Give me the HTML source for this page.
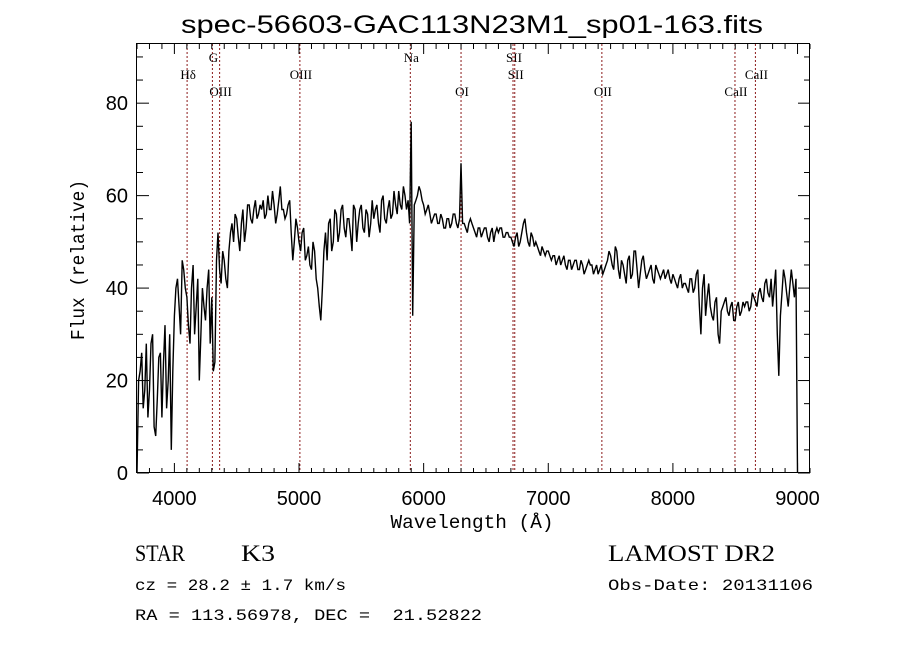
<!DOCTYPE html>
<html><head><meta charset="utf-8"><style>
html,body{margin:0;padding:0;background:#fff;}
svg{display:block}
</style></head><body>
<svg id="chart" width="900" height="649" xmlns="http://www.w3.org/2000/svg">
<rect width="900" height="649" fill="#fff"/>
<text x="472" y="33" text-anchor="middle" font-family="Liberation Sans, sans-serif" font-size="25" textLength="582" lengthAdjust="spacingAndGlyphs">spec-56603-GAC113N23M1_sp01-163.fits</text>
<g id="lines"></g>
<g id="axes"></g>
<path id="spec" fill="none" stroke="#000" stroke-width="1.4" stroke-linejoin="miter"/>
<rect x="136.5" y="43.5" width="673" height="429" fill="none" stroke="#000" stroke-width="1"/>
<text transform="translate(84,260) rotate(-90)" text-anchor="middle" font-family="Liberation Mono, monospace" font-size="19" textLength="160" lengthAdjust="spacingAndGlyphs">Flux (relative)</text>
<text x="472" y="528" text-anchor="middle" font-family="Liberation Mono, monospace" font-size="19" textLength="163" lengthAdjust="spacingAndGlyphs">Wavelength (Å)</text>
<text x="135" y="561" font-family="Liberation Serif, serif" font-size="23" textLength="50" lengthAdjust="spacingAndGlyphs">STAR</text>
<text x="241" y="561" font-family="Liberation Serif, serif" font-size="23" textLength="34" lengthAdjust="spacingAndGlyphs">K3</text>
<text x="608" y="561" font-family="Liberation Serif, serif" font-size="23" textLength="167" lengthAdjust="spacingAndGlyphs">LAMOST DR2</text>
<text x="135" y="590" font-family="Liberation Mono, monospace" font-size="16" textLength="211" lengthAdjust="spacingAndGlyphs">cz = 28.2 ± 1.7 km/s</text>
<text x="608" y="590" font-family="Liberation Mono, monospace" font-size="16" textLength="205" lengthAdjust="spacingAndGlyphs">Obs-Date: 20131106</text>
<text x="135" y="620" font-family="Liberation Mono, monospace" font-size="16" textLength="347" lengthAdjust="spacingAndGlyphs" xml:space="preserve" style="white-space:pre">RA = 113.56978, DEC =  21.52822</text>
</svg>
<script>
const wlStart = 3700;
const wlStep = 25;
const flux = [
0,22,14,28, 18,30,8,25, 12,32,20,5, 34,42,30,44, 38,28,45,36, 20,40,33,44, 38,24,52,41,
46,40,52,50, 55,48,57,53, 58,54,59,56, 57,55,60,57, 58,56,62,57, 56,59,46,55, 50,52,46,49,
44,48,40,33, 48,46,55,50, 56,52,58,51, 55,48,57,54, 58,52,56,54, 55,58,52,60, 54,59,56,58,
61,57,60,59, 76,58,60,61, 58,57,56,55, 56,54,55,53, 55,54,56,53, 67,54,52,55, 53,51,53,52,
53,50,53,52, 52,53,51,52, 51,49,52,50, 54,52,49,51, 50,48,49,47, 48,46,47,46, 45,47,44,46,
45,46,44,45, 44,46,45,44, 43,45,44,46, 47,44,48,42, 45,41,47,43, 48,40,46,44, 43,45,41,44,
42,44,43,42, 43,41,42,40, 41,39,42,40, 44,30,43,38, 36,33,38,28, 36,38,34,37, 33,37,35,36,
37,36,38,36, 40,37,42,38, 36,44,21,39, 42,36,44,38, 0];
// flux at half-step wavelengths (wlStart + i*wlStep + 12.5)
const fluxMid = [
20,26,18,12, 28,10,16,26, 24,14,30,22, 40,36,46,40, 32,40,30,42, 30,36,40,28, 22,46,44,48,
42,48,54,56, 51,54,50,58, 55,57,55,58, 59,56,57,61, 54,59,57,55, 58,52,50,53, 48,53,47,45,
50,42,36,40, 52,54,48,57, 50,57,53,55, 52,58,50,57, 53,57,51,59, 57,54,59,55, 57,55,61,56,
58,62,57,54, 34,59,62,59, 56,58,54,56, 54,56,53,55, 53,56,54,55, 54,53,54,54, 52,53,51,53,
51,52,50,53, 53,51,52,51, 50,51,49,52, 55,50,52,49, 49,47,48,48, 47,47,45,47, 46,45,46,44,
46,44,46,43, 45,45,43,45, 44,43,45,48, 45,49,44,46, 43,46,42,48, 44,43,47,42, 44,42,45,43,
43,42,44,41, 42,40,43,41, 40,42,39,43, 36,40,34,41, 34,37,30,35, 37,35,36,33, 36,34,37,37,
35,39,37,39, 38,41,39,42, 40,30,34,44, 39,40,41,42];
const lineNames = ["H\u03B4","G","OIII","OIII","Na","OI","SII","SII","OII","CaII","CaII"];
const lineWaves = [4102,4305,4363,5007,5893,6300,6717,6731,7430,8498,8662];
const lineRows = [1,0,2,1,0,2,0,1,2,2,1];
const xTicks = [4000,5000,6000,7000,8000,9000];
const yTicks = [0,20,40,60,80];

const X0=137, X1=810, Y0=473, Y1=44, WMIN=3700, WMAX=9100, FMIN=0, FMAX=92.8;
const xs = w => X0 + (w-WMIN)/(WMAX-WMIN)*(X1-X0);
const ys = f => Y0 - (f-FMIN)/(FMAX-FMIN)*(Y0-Y1);
const NS="http://www.w3.org/2000/svg";
function mk(tag, attrs, parent){const e=document.createElementNS(NS,tag);for(const k in attrs)e.setAttribute(k,attrs[k]);parent.appendChild(e);return e;}

let d="";
flux.forEach((f,i)=>{
  const w=wlStart+i*wlStep;
  d+=(i?"L":"M")+xs(w).toFixed(1)+","+ys(f).toFixed(1);
  if(i<fluxMid.length) d+="L"+xs(w+wlStep/2).toFixed(1)+","+ys(fluxMid[i]).toFixed(1);
});
document.getElementById("spec").setAttribute("d",d);

const lg=document.getElementById("lines");
lineWaves.forEach((w,i)=>{
  const x=xs(w);
  const l=mk("line",{x1:x,x2:x,y1:Y1,y2:Y0,stroke:"#8b1a1a","stroke-width":1,"stroke-dasharray":"2,2"},lg);
  
  
  const t=mk("text",{x:x+1,y:62+lineRows[i]*17,"text-anchor":"middle","font-family":"Liberation Serif, serif","font-size":13},lg);
  t.textContent=lineNames[i];
  
  
});

const ag=document.getElementById("axes");
for(let w=3700; w<=9100; w+=100){
  const x=xs(w), major = w%1000===0, len= major?10:5;
  const b=mk("line",{x1:x,x2:x,y1:Y0,y2:Y0-len,stroke:"#000"},ag);
  
  
  const t=mk("line",{x1:x,x2:x,y1:Y1,y2:Y1+len,stroke:"#000"},ag);
  
  
}
xTicks.forEach(v=>{
  const t=mk("text",{x:xs(v),y:505,"text-anchor":"middle","font-family":"Liberation Sans, sans-serif","font-size":20},ag);
  t.textContent=v;
  
  
});
for(let f=0; f<=90; f+=5){
  const y=ys(f), major=f%20===0, len=major?12:6;
  const l=mk("line",{x1:X0,x2:X0+len,y1:y,y2:y,stroke:"#000"},ag);
  
  
  const r=mk("line",{x1:X1,x2:X1-len,y1:y,y2:y,stroke:"#000"},ag);
  
  
}
yTicks.forEach(v=>{
  const t=mk("text",{x:128,y:ys(v)+7,"text-anchor":"end","font-family":"Liberation Sans, sans-serif","font-size":20},ag);
  t.textContent=v;
  
  
});
</script>
</body></html>
